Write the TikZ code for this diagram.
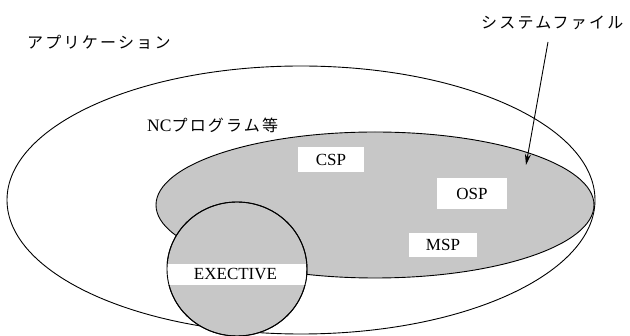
\documentclass[tikz,border=0pt]{standalone}
\usepackage{fontspec}
\setmainfont{Liberation Serif}
\newfontfamily\cjk{Noto Sans CJK JP}[LetterSpace=14]
\usetikzlibrary{shapes.geometric,arrows.meta}
\definecolor{halftone}{gray}{0.78}
\tikzset{
  outline/.style={draw=black, line width=0.9pt},
  grayarea/.style={outline, fill=halftone},
  whitelabel/.style={fill=white, inner sep=0pt, font=\fontsize{17}{17}\selectfont},
  jplabel/.style={inner sep=0pt, anchor=west, font=\fontsize{16}{16}\selectfont\cjk},
}
\begin{document}
\begin{tikzpicture}[x=1pt,y=-1pt]
\useasboundingbox (0,0) rectangle (630,336);
% outer ellipse: applications
\node[ellipse, outline, fill=white, minimum width=588pt, minimum height=268pt, inner sep=0pt] (app) at (301,200) {};
% NC programs
\node[ellipse, grayarea, minimum width=438pt, minimum height=146pt, inner sep=0pt] (nc) at (375,205) {};
% EXECTIVE circle
\node[ellipse, grayarea, minimum width=140pt, minimum height=134pt, inner sep=0pt] (exec) at (237,269) {};
% white label boxes
\node[whitelabel, minimum width=66pt, minimum height=25pt] (csp) at (331,160) {CSP};
\node[whitelabel, minimum width=70pt, minimum height=31pt] (osp) at (472,194) {OSP};
\node[whitelabel, minimum width=68pt, minimum height=24pt] (msp) at (443,245) {MSP};
\node[whitelabel, minimum width=141pt, minimum height=21pt] (exlab) at (235.5,274.5) {EXECTIVE};
% redraw circle outline over the band
\node[ellipse, draw=black, line width=0.9pt, minimum width=140pt, minimum height=134pt, inner sep=0pt] (execline) at (237,269) {};
% titles
\node[jplabel] (apptitle) at (27,42) {アプリケーション};
\node[jplabel] (systitle) at (481,23) {システムファイル};
\node[inner sep=0pt, anchor=west, font=\fontsize{17.5}{17.5}\selectfont] (nctitle) at (147,125) {NC{\cjk\fontsize{16}{16}\selectfont プログラム等}};
% arrow to system file
\coordinate (atail) at (548,42);
\coordinate (ahead) at (526,165);
\draw[line width=0.9pt, -{Stealth[length=11pt,width=6pt]}] (atail) -- (ahead);
\end{tikzpicture}
\end{document}
